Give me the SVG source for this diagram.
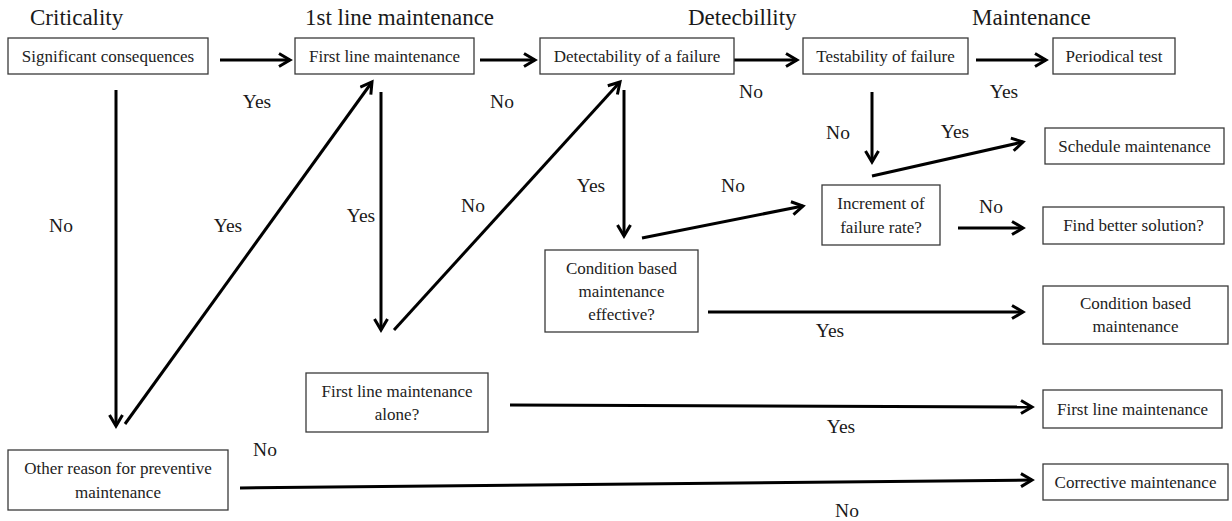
<svg xmlns="http://www.w3.org/2000/svg" width="1232" height="521" viewBox="0 0 1232 521">
<style>
.box{fill:#fff;stroke:#3a3a3a;stroke-width:1.3}
text{font-family:'Liberation Serif','Times New Roman',Times,'Noto Serif','DejaVu Serif',serif}
.t{font-size:17px;fill:#222;text-anchor:middle}
.h{font-size:23px;fill:#1a1a1a}
.l{font-size:19.5px;fill:#1a1a1a;text-anchor:middle}
.c{stroke:#000;stroke-width:3;fill:none;marker-end:url(#a)}
</style>
<defs>
<marker id="a" markerUnits="userSpaceOnUse" markerWidth="18" markerHeight="18" refX="13" refY="8" orient="auto">
<path d="M2,1.5 L13,8 L2,14.5" fill="none" stroke="#000" stroke-width="3" stroke-linejoin="miter"/>
</marker>
</defs>
<rect width="1232" height="521" fill="#fff"/>
<g id="headers">
<text class="h" x="30" y="25">Criticality</text>
<text class="h" x="305" y="25">1st line maintenance</text>
<text class="h" x="688" y="25">Detecbillity</text>
<text class="h" x="972" y="25">Maintenance</text>
</g>
<g id="connectors">
<line class="c" x1="220" y1="60" x2="290" y2="60"/>
<line class="c" x1="480" y1="60" x2="535" y2="60"/>
<line class="c" x1="728" y1="60" x2="797" y2="60"/>
<line class="c" x1="976" y1="60" x2="1046" y2="60"/>
<line class="c" x1="116" y1="90" x2="116" y2="426"/>
<line class="c" x1="125" y1="424" x2="372" y2="82"/>
<line class="c" x1="381" y1="92" x2="381" y2="330"/>
<line class="c" x1="394" y1="330" x2="620" y2="82"/>
<line class="c" x1="624" y1="90" x2="624" y2="236"/>
<line class="c" x1="642" y1="238" x2="803" y2="206"/>
<line class="c" x1="872" y1="92" x2="872" y2="162"/>
<line class="c" x1="872" y1="176" x2="1023" y2="142"/>
<line class="c" x1="958" y1="228" x2="1023" y2="228"/>
<line class="c" x1="708" y1="312" x2="1023" y2="312"/>
<line class="c" x1="510" y1="405" x2="1032" y2="407"/>
<line class="c" x1="240" y1="488" x2="1032" y2="480"/>
</g>
<g id="labels">
<text class="l" x="257" y="108">Yes</text>
<text class="l" x="502" y="108">No</text>
<text class="l" x="751" y="98">No</text>
<text class="l" x="1004" y="98">Yes</text>
<text class="l" x="61" y="232">No</text>
<text class="l" x="228" y="232">Yes</text>
<text class="l" x="361" y="222">Yes</text>
<text class="l" x="473" y="212">No</text>
<text class="l" x="591" y="192">Yes</text>
<text class="l" x="733" y="192">No</text>
<text class="l" x="838" y="139">No</text>
<text class="l" x="955" y="138">Yes</text>
<text class="l" x="991" y="213">No</text>
<text class="l" x="830" y="337">Yes</text>
<text class="l" x="841" y="433">Yes</text>
<text class="l" x="265" y="456">No</text>
<text class="l" x="847" y="517">No</text>
</g>
<g id="n-significant"><rect class="box" x="8" y="38" width="200" height="36"/><text class="t" x="108" y="62">Significant consequences</text></g>
<g id="n-firstline-top"><rect class="box" x="295" y="38" width="179" height="36"/><text class="t" x="384.5" y="62">First line maintenance</text></g>
<g id="n-detectability"><rect class="box" x="540" y="38" width="194" height="36"/><text class="t" x="637" y="62">Detectability of a failure</text></g>
<g id="n-testability"><rect class="box" x="803" y="38" width="165" height="36"/><text class="t" x="885.5" y="62">Testability of failure</text></g>
<g id="n-periodical"><rect class="box" x="1053" y="38" width="122" height="36"/><text class="t" x="1114" y="62">Periodical test</text></g>
<g id="n-schedule"><rect class="box" x="1045" y="128" width="179" height="36"/><text class="t" x="1134.5" y="152">Schedule maintenance</text></g>
<g id="n-increment"><rect class="box" x="822" y="185" width="118" height="60"/><text class="t" x="881" y="209">Increment of</text><text class="t" x="881" y="233">failure rate?</text></g>
<g id="n-findbetter"><rect class="box" x="1043" y="207" width="181" height="37"/><text class="t" x="1133.5" y="231">Find better solution?</text></g>
<g id="n-cbm-effective"><rect class="box" x="545" y="250" width="153" height="82"/><text class="t" x="621.5" y="274">Condition based</text><text class="t" x="621.5" y="297">maintenance</text><text class="t" x="621.5" y="320">effective?</text></g>
<g id="n-cbm"><rect class="box" x="1043" y="286" width="185" height="58"/><text class="t" x="1135.5" y="309">Condition based</text><text class="t" x="1135.5" y="332">maintenance</text></g>
<g id="n-firstline-alone"><rect class="box" x="306" y="373" width="182" height="59"/><text class="t" x="397" y="397">First line maintenance</text><text class="t" x="397" y="420">alone?</text></g>
<g id="n-firstline-right"><rect class="box" x="1043" y="390" width="179" height="38"/><text class="t" x="1132.5" y="415">First line maintenance</text></g>
<g id="n-other"><rect class="box" x="8" y="450" width="220" height="60"/><text class="t" x="118" y="474">Other reason for preventive</text><text class="t" x="118" y="498">maintenance</text></g>
<g id="n-corrective"><rect class="box" x="1043" y="464" width="185" height="36"/><text class="t" x="1135.5" y="488">Corrective maintenance</text></g>
</svg>
